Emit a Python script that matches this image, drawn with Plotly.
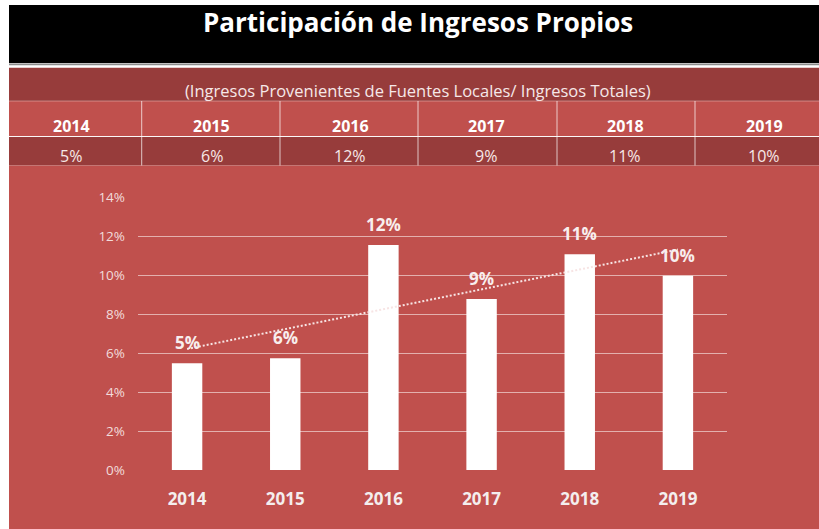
import numpy as np
import plotly.graph_objects as go

# Participation of own-source revenue by year
years = ["2014", "2015", "2016", "2017", "2018", "2019"]
share = [0.0547, 0.0573, 0.1154, 0.0877, 0.1106, 0.0996]
y_ticks = [0.0, 0.02, 0.04, 0.06, 0.08, 0.10, 0.12, 0.14]

title_text = "Participación de Ingresos Propios"
subtitle_text = "(Ingresos Provenientes de Fuentes Locales/ Ingresos Totales)"

W, H = 819, 529
RED = "#c0504d"
DARK = "#973c3b"
TXT = "#f6e8e8"


def px(x):
    return x / W


def py(y):
    return 1 - y / H


# linear trend over the yearly shares
idx = np.arange(len(share))
slope, intercept = np.polyfit(idx, share, 1)
trend = slope * idx + intercept

fig = go.Figure()

fig.add_trace(go.Bar(
    x=years, y=share, width=0.31,
    marker=dict(color="white", line=dict(width=0)),
    hoverinfo="x+y",
))
fig.add_trace(go.Scatter(
    x=years, y=trend.tolist(), mode="lines",
    line=dict(color="#f7e4e4", width=2, dash="2px,2px"),
    hoverinfo="skip",
))

shapes = []
# title bar
shapes.append(dict(type="rect", xref="paper", yref="paper", layer="below",
                   x0=px(9), x1=px(W), y0=py(63.3), y1=py(5),
                   fillcolor="black", line=dict(width=0)))
shapes.append(dict(type="line", xref="paper", yref="paper", layer="below",
                   x0=px(9), x1=px(W), y0=py(64.6), y1=py(64.6),
                   line=dict(color="#8c8c8c", width=1.4)))
# table rows
rows = [(67.7, 101, DARK), (101, 136.5, RED), (136.5, 165.5, DARK)]
for top, bot, col in rows:
    shapes.append(dict(type="rect", xref="paper", yref="paper", layer="below",
                       x0=px(9), x1=px(W), y0=py(bot), y1=py(top),
                       fillcolor=col, line=dict(width=0)))
# chart background
shapes.append(dict(type="rect", xref="paper", yref="paper", layer="below",
                   x0=px(9), x1=px(W), y0=py(H), y1=py(165.5),
                   fillcolor=RED, line=dict(width=0)))
# table grid lines
shapes.append(dict(type="line", xref="paper", yref="paper", layer="below",
                   x0=px(9), x1=px(W), y0=py(101), y1=py(101),
                   line=dict(color="rgba(255,255,255,0.35)", width=1)))
shapes.append(dict(type="line", xref="paper", yref="paper", layer="below",
                   x0=px(9), x1=px(W), y0=py(136.5), y1=py(136.5),
                   line=dict(color="rgba(255,255,255,0.95)", width=1.2)))
for xv in [141.7, 280, 418, 557, 695]:
    shapes.append(dict(type="line", xref="paper", yref="paper", layer="below",
                       x0=px(xv), x1=px(xv), y0=py(165.5), y1=py(101),
                       line=dict(color="rgba(255,255,255,0.7)", width=1)))

annotations = []
annotations.append(dict(xref="paper", yref="paper", x=px(418.5), y=py(22.5),
                        text=title_text, showarrow=False,
                        font=dict(family="Open Sans", size=26, color="white", weight="bold"),
                        xanchor="center", yanchor="middle"))
annotations.append(dict(xref="paper", yref="paper", x=px(418), y=py(91),
                        text=subtitle_text, showarrow=False,
                        font=dict(family="Open Sans", size=16.5, color=TXT),
                        xanchor="center", yanchor="middle"))
col_centers = [71, 211.5, 350, 486, 625, 764]
for cx, yr, v in zip(col_centers, years, share):
    annotations.append(dict(xref="paper", yref="paper", x=px(cx), y=py(126.5),
                            text=yr, showarrow=False,
                            font=dict(family="Open Sans", size=16, color="white", weight="bold"),
                            xanchor="center", yanchor="middle"))
    annotations.append(dict(xref="paper", yref="paper", x=px(cx), y=py(155.5),
                            text=f"{v:.0%}", showarrow=False,
                            font=dict(family="Open Sans", size=16, color=TXT),
                            xanchor="center", yanchor="middle"))
# data labels above the bars (category index positions)
for i, v in enumerate(share):
    annotations.append(dict(x=i, y=v, xref="x", yref="y",
                            text=f"{v:.0%}", showarrow=False,
                            font=dict(family="Open Sans", size=17, color="#f8eeee", weight="bold"),
                            xanchor="center", yanchor="bottom", yshift=7))

fig.update_layout(
    width=W, height=H,
    margin=dict(l=0, r=0, t=0, b=0, autoexpand=False),
    paper_bgcolor="white",
    plot_bgcolor="rgba(0,0,0,0)",
    showlegend=False,
    shapes=shapes,
    annotations=annotations,
    xaxis=dict(
        type="category", domain=[px(138), px(727)],
        range=[-0.5, len(years) - 0.5], autorange=False,
        categoryorder="array", categoryarray=years,
        showgrid=False, zeroline=False, showline=False, ticks="",
        tickfont=dict(family="Open Sans", size=17, color="#f4eeee", weight="bold"),
        ticklabelstandoff=17, automargin=False,
    ),
    yaxis=dict(
        domain=[py(470), py(197)], range=[0, 0.14], autorange=False,
        tickvals=y_ticks, tickformat=".0%",
        showgrid=True, gridcolor="rgba(255,255,255,0.55)", gridwidth=1.4,
        zeroline=False, showline=False, ticks="",
        tickfont=dict(family="Open Sans", size=13.5, color="#f2dcdb"),
        ticklabelstandoff=12, automargin=False,
    ),
)

fig.write_html("out.html")
